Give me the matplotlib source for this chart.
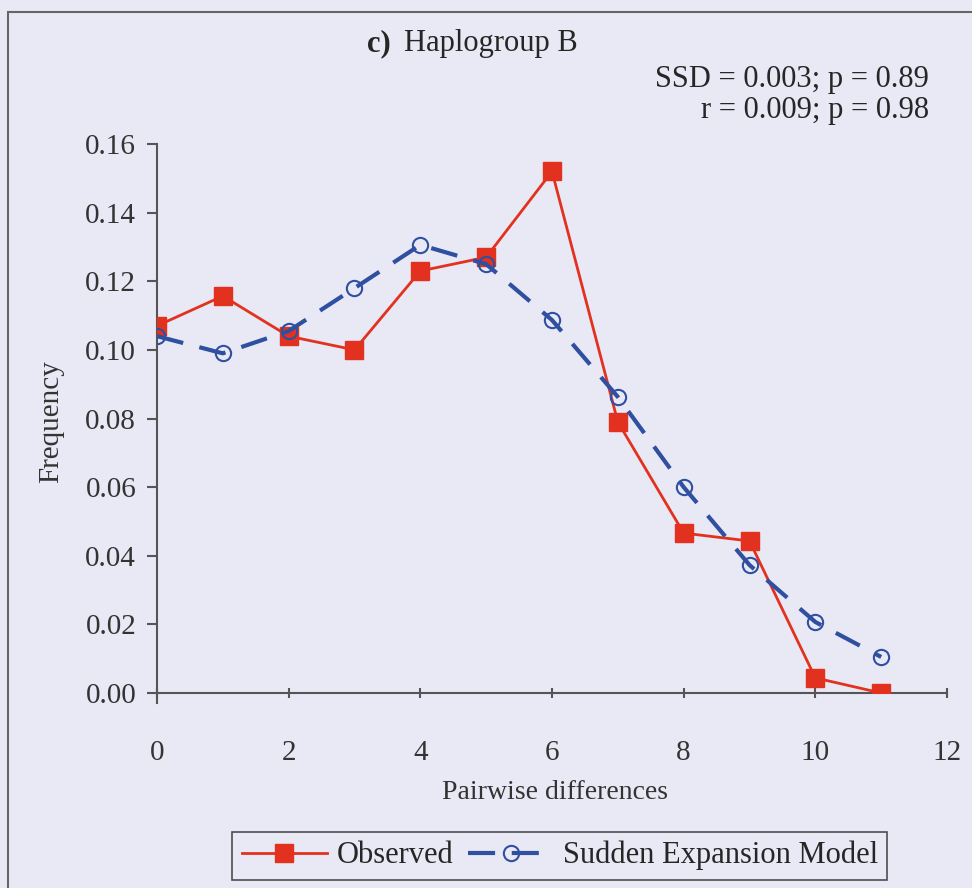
import matplotlib
matplotlib.use("Agg")
import matplotlib.pyplot as plt
from matplotlib.patches import Rectangle

# pairwise differences and frequencies
diffs    = [0, 1, 2, 3, 4, 5, 6, 7, 8, 9, 10, 11]
observed = [0.107, 0.1157, 0.104, 0.100, 0.123, 0.127, 0.152, 0.079, 0.0466, 0.0443, 0.0044, 0.000]
model    = [0.104, 0.099, 0.1055, 0.118, 0.1306, 0.125, 0.1087, 0.0863, 0.060, 0.0373, 0.0207, 0.0105]

xticks = [0, 2, 4, 6, 8, 10, 12]
yticks = [0.00, 0.02, 0.04, 0.06, 0.08, 0.10, 0.12, 0.14, 0.16]

bg = "#e8e9f4"
red = "#e2321f"
blue = "#2f4fa0"
grey = "#555555"
ink = "#262626"

plt.rcParams["font.family"] = ["Liberation Serif", "DejaVu Serif"]

fig = plt.figure(figsize=(9.72, 8.88), dpi=100, facecolor=bg)
ax = fig.add_axes([0.1615, 0.2196, 0.8128, 0.6182])
ax.set_facecolor(bg)

ax.plot(diffs, observed, color=red, lw=2.0, marker="s", ms=13,
        mfc=red, mec=red, label="Observed", zorder=3)
ax.plot(diffs, model, color=blue, lw=3, ls=(0, (6.5, 4)), marker="o", ms=11,
        mfc="none", mec=blue, mew=1.5, label="Sudden Expansion Model", zorder=4)

ax.set_xlim(0, 12)
ax.set_ylim(0, 0.16)
ax.set_xticks(xticks)
ax.set_yticks(yticks)
ax.set_yticklabels([f"{v:.2f}" for v in yticks])
ax.tick_params(axis="both", labelsize=21, colors=grey, labelcolor="#333333",
               length=7, width=1.5)
ax.tick_params(axis="x", direction="inout", pad=30)
ax.tick_params(axis="y", direction="out", pad=8)
for s in ["top", "right"]:
    ax.spines[s].set_visible(False)
for s in ["left", "bottom"]:
    ax.spines[s].set_color(grey)
    ax.spines[s].set_linewidth(1.5)
ax.spines["left"].set_bounds(-0.003, 0.16)
for lab in ax.get_xticklabels() + ax.get_yticklabels():
    lab.set_clip_on(False)

fig.text(0.053, 0.525, "Frequency", rotation=90, ha="center", va="center",
         fontsize=21, color="#333333")
fig.text(0.571, 0.107, "Pairwise differences", ha="center", va="center",
         fontsize=20, color="#333333")

fig.text(0.402, 0.951, "c)", ha="right", va="center", fontsize=22,
         fontweight="bold", color=ink)
fig.text(0.416, 0.951, "Haplogroup B", ha="left", va="center", fontsize=22,
         color=ink)
fig.text(0.956, 0.910, "SSD = 0.003; p = 0.89", ha="right", va="center",
         fontsize=22, color=ink)
fig.text(0.956, 0.876, "r = 0.009; p = 0.98", ha="right", va="center",
         fontsize=22, color=ink)

leg = fig.legend(loc="center", bbox_to_anchor=(0.576, 0.0365), ncol=2,
                 fontsize=22, frameon=True, fancybox=False, handlelength=2.8,
                 handletextpad=0.3, columnspacing=0.5, borderpad=0.3,
                 borderaxespad=0)
leg.get_frame().set_edgecolor(ink)
leg.get_frame().set_linewidth(1.2)
leg.get_frame().set_facecolor(bg)
for t in leg.get_texts():
    t.set_color(ink)

# outer frame of the scanned panel
fig.patches.append(Rectangle((0.008, -0.05), 1.2, 1.037, transform=fig.transFigure,
                             fill=False, edgecolor="#666666", lw=1.5))

fig.savefig("out.png", dpi=100, facecolor=bg)
